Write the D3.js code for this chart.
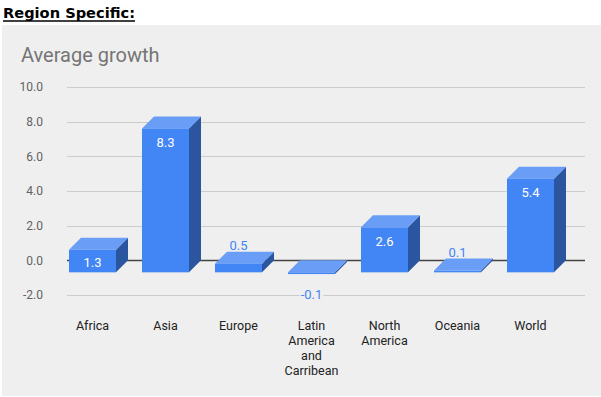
<!DOCTYPE html>
<html>
<head>
<meta charset="utf-8">
<script src="https://cdn.jsdelivr.net/npm/d3@7"></script>
<style>
  body { margin: 0; background: #fff; }
  svg { display: block; }
</style>
</head>
<body>
<div id="chart"></div>
<script>
// data
var categories = ["Africa", "Asia", "Europe", "Latin America and Carribean", "North America", "Oceania", "World"];
var growth = [1.3, 8.3, 0.5, -0.1, 2.6, 0.1, 5.4];
var yTicks = [-2, 0, 2, 4, 6, 8, 10];

var width = 601;
var height = 397;
var depth = 12; // 3d offset of the columns

// plain hyphen for negatives, like the original
var fmt = d3.formatLocale({ decimal: '.', thousands: ',', grouping: [3], currency: ['', ''], minus: '-' }).format('.1f');

var svg = d3.select('#chart')
  .append('svg')
  .attr('width', width)
  .attr('height', height);

// page header
svg.append('text')
  .attr('x', 3)
  .attr('y', 18)
  .attr('font-family', 'DejaVu Sans, Verdana, sans-serif')
  .attr('font-weight', 'bold')
  .attr('font-size', 14)
  .attr('textLength', 132)
  .attr('lengthAdjust', 'spacingAndGlyphs')
  .attr('fill', '#000')
  .text('Region Specific:');
svg.append('line')
  .attr('x1', 3).attr('x2', 135)
  .attr('y1', 21).attr('y2', 21)
  .attr('stroke', '#000')
  .attr('stroke-width', 1.3);

// chart background
svg.append('rect')
  .attr('x', 2).attr('y', 25)
  .attr('width', 599).attr('height', 371)
  .attr('fill', '#efefef');

svg.append('text')
  .attr('x', 21)
  .attr('y', 62)
  .attr('font-family', 'Roboto, sans-serif')
  .attr('font-size', 20)
  .attr('fill', '#757575')
  .text('Average growth');

// scales live on the back plane of the 3d box
var x = d3.scaleBand()
  .domain(categories)
  .range([68, 579])
  .paddingInner(0.356)
  .paddingOuter(0.178);

var y = d3.scaleLinear()
  .domain([-2, 10])
  .range([295, 87]);

var grid = svg.append('g');
grid.selectAll('line')
  .data(yTicks)
  .enter()
  .append('line')
  .attr('x1', 67)
  .attr('x2', 585)
  .attr('y1', function(d) { return Math.round(y(d)) + 0.5; })
  .attr('y2', function(d) { return Math.round(y(d)) + 0.5; })
  .attr('stroke', function(d) { return d === 0 ? '#444' : '#ccc'; })
  .attr('stroke-width', function(d) { return d === 0 ? 1.3 : 1.2; });

grid.selectAll('text')
  .data(yTicks)
  .enter()
  .append('text')
  .attr('x', 43)
  .attr('y', function(d) { return y(d); })
  .attr('dy', '0.35em')
  .attr('text-anchor', 'end')
  .attr('font-family', 'Roboto, sans-serif')
  .attr('font-size', 12)
  .attr('fill', '#616161')
  .text(fmt);

var data = categories.map(function(c, i) { return { name: c, value: growth[i] }; });

var bars = svg.selectAll('g.bar')
  .data(data)
  .enter()
  .append('g')
  .attr('class', 'bar');

function pts(arr) { return arr.map(function(p) { return p.join(','); }).join(' '); }

bars.each(function(d) {
  var g = d3.select(this);
  var bx0 = x(d.name), bx1 = bx0 + x.bandwidth();
  var top = y(Math.max(d.value, 0)), bot = y(Math.min(d.value, 0));
  var fx0 = bx0 - depth, fx1 = bx1 - depth;
  var ft = top + depth, fb = bot + depth;

  // side
  g.append('polygon')
    .attr('points', pts([[fx1, ft], [bx1, top], [bx1, bot], [fx1, fb]]))
    .attr('fill', '#2b559f');
  // top
  g.append('polygon')
    .attr('points', pts([[fx0, ft], [bx0, top], [bx1, top], [fx1, ft]]))
    .attr('fill', '#6a9ef6');
  // front
  g.append('rect')
    .attr('x', fx0)
    .attr('y', ft)
    .attr('width', fx1 - fx0)
    .attr('height', Math.max(fb - ft, 0.01))
    .attr('fill', '#4285f4');
});

// value labels
bars.each(function(d) {
  var g = d3.select(this);
  var cx = x(d.name) + x.bandwidth() / 2 - depth;
  var top = y(Math.max(d.value, 0)), bot = y(Math.min(d.value, 0));
  var ft = top + depth, fb = bot + depth;
  var inside = (fb - ft) >= 18;
  var ly;
  if (inside) {
    ly = Math.min(ft + 14, (ft + fb) / 2 + 1);
  } else if (d.value >= 0) {
    ly = top - 6.5;
  } else {
    ly = fb + 20;
  }
  var t = g.append('text')
    .attr('x', cx)
    .attr('y', ly)
    .attr('dy', '0.35em')
    .attr('text-anchor', 'middle')
    .attr('font-family', 'Roboto, sans-serif')
    .attr('font-size', 13)
    .attr('fill', inside ? '#ffffff' : '#4285f4')
    .text(fmt(d.value));
  if (!inside) {
    var bb = t.node().getBBox();
    g.insert('rect', 'text')
      .attr('x', bb.x - 1)
      .attr('y', bb.y + 2)
      .attr('width', bb.width + 2)
      .attr('height', bb.height - 4)
      .attr('fill', '#efefef');
  }
});

// category labels, wrapped like the original
var catLabels = svg.append('g');
data.forEach(function(d) {
  var cx = x(d.name) + x.bandwidth() / 2 - depth;
  var t = catLabels.append('text')
    .attr('text-anchor', 'middle')
    .attr('font-family', 'Roboto, sans-serif')
    .attr('font-size', 12.5)
    .attr('fill', '#222');
  var words = d.name.split(' ');
  var lines = [];
  var line = '';
  words.forEach(function(w) {
    var test = line ? line + ' ' + w : w;
    t.text(test);
    if (line && t.node().getComputedTextLength() > 55) {
      lines.push(line);
      line = w;
    } else {
      line = test;
    }
  });
  lines.push(line);
  t.text('');
  lines.forEach(function(l, i) {
    t.append('tspan')
      .attr('x', cx)
      .attr('y', 326 + i * 15)
      .attr('dy', '0.35em')
      .text(l);
  });
});
</script>
</body>
</html>
